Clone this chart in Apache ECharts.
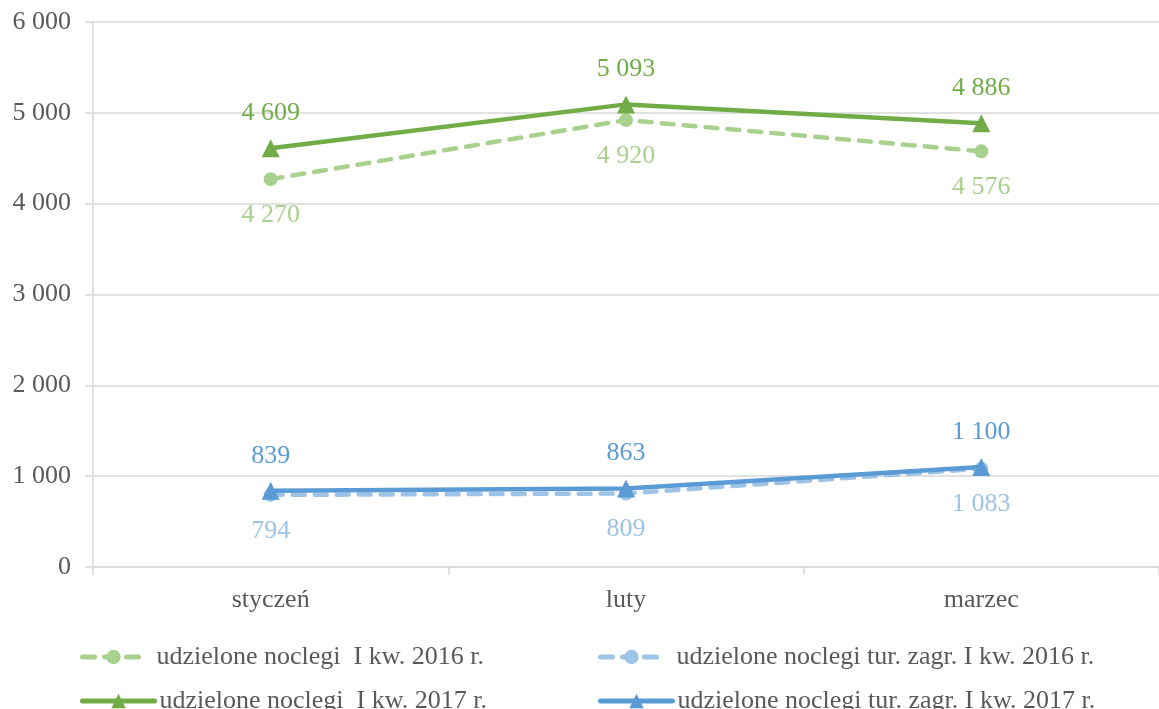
<!DOCTYPE html>
<html>
<head>
<meta charset="utf-8">
<script src="https://cdn.jsdelivr.net/npm/echarts@6/dist/echarts.min.js"></script>
<style>
	html, body { margin: 0; padding: 0; background: #fff; }
	#chart { width: 1159px; height: 709px; }
</style>
</head>
<body>
<div id="chart"></div>
<script>
/** ---------------- dane ---------------- */
var months = ['styczeń', 'luty', 'marzec'];
var names = [
	'udzielone noclegi  I kw. 2016 r.',
	'udzielone noclegi tur. zagr. I kw. 2016 r.',
	'udzielone noclegi  I kw. 2017 r.',
	'udzielone noclegi tur. zagr. I kw. 2017 r.'
];
var noclegi2016 = [4270, 4920, 4576];
var zagr2016 = [794, 809, 1083];
var noclegi2017 = [4609, 5093, 4886];
var zagr2017 = [839, 863, 1100];

var serif = '"Liberation Serif", "DejaVu Serif", serif';

function fmt(v) {
	return String(v).replace(/\B(?=(\d{3})+(?!\d))/g, ' ');
}

/** --------serie ------ */
function lineSeries(name, data, color, dashed, pos) {
	return {
		name: name,
		type: 'line',
		data: data,
		symbol: dashed ? 'circle' : 'triangle',
		symbolSize: dashed ? 14 : 18,
		z: dashed ? 2 : 3,
		itemStyle: { color: color },
		lineStyle: {
			color: color,
			width: 4.5,
			type: dashed ? [12, 10] : 'solid',
			cap: 'round'
		},
		label: {
			show: true,
			position: pos,
			distance: dashed ? 16 : 13,
			color: color,
			fontFamily: serif,
			fontSize: 26,
			formatter: function (p) { return fmt(p.value); }
		}
	};
}

function legendAt(name, left, top, width, pad) {
	return {
		data: [{ name: name, lineStyle: { width: 5 } }],
		left: left,
		top: top,
		itemWidth: width,
		itemHeight: 18,
		itemGap: 0,
		textStyle: { fontFamily: serif, fontSize: 26, color: '#595959', padding: [0, 0, 0, pad] }
	};
}

var chart = echarts.init(document.getElementById('chart'));
var option = {
	animation: false,
	legend: [
		legendAt(names[0], 75, 639, 62, 7),
		legendAt(names[1], 593, 639, 62, 9),
		legendAt(names[2], 75, 683, 72, 0),
		legendAt(names[3], 593, 683, 72, 0)
	],
	grid: { left: 93, right: 0, top: 22, bottom: 142 },
	xAxis: {
		type: 'category',
		data: months,
		boundaryGap: true,
		axisLine: { lineStyle: { color: '#d9d9d9', width: 1.5 } },
		axisTick: { show: true, length: 8, lineStyle: { color: '#d9d9d9', width: 1.5 } },
		axisLabel: { fontFamily: serif, fontSize: 26, color: '#595959', margin: 20 }
	},
	yAxis: {
		type: 'value',
		min: 0,
		max: 6000,
		interval: 1000,
		axisLine: { show: true, lineStyle: { color: '#d9d9d9', width: 1.5 } },
		axisTick: { show: true, length: 8, lineStyle: { color: '#d9d9d9', width: 1.5 } },
		splitLine: { lineStyle: { color: '#d9d9d9', width: 1.5 } },
		axisLabel: {
			fontFamily: serif, fontSize: 26, color: '#595959', margin: 22,
			formatter: function (v) { return fmt(v); }
		}
	},
	series: [
		lineSeries(names[0], noclegi2016, '#a9d18e', true, 'bottom'),
		lineSeries(names[1], zagr2016, '#9dc3e6', true, 'bottom'),
		lineSeries(names[2], noclegi2017, '#70ad47', false, 'top'),
		lineSeries(names[3], zagr2017, '#5b9bd5', false, 'top')
	]
};
chart.setOption(option);
</script>
</body>
</html>
